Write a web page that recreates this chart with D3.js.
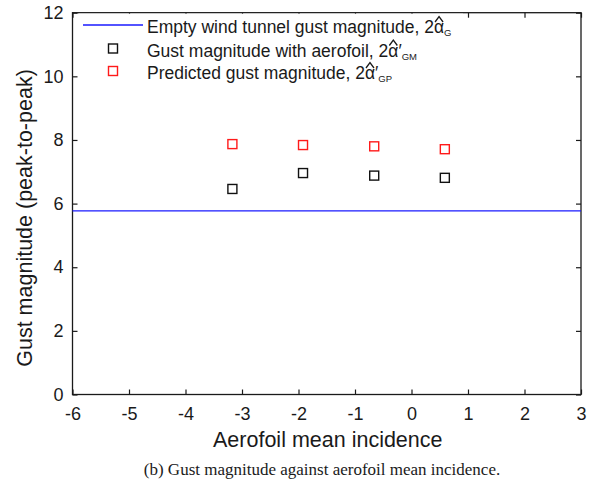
<!DOCTYPE html>
<html>
<head>
<meta charset="utf-8">
<script src="https://cdn.jsdelivr.net/npm/d3@7"></script>
<style>
  html, body { margin: 0; padding: 0; background: #fff; }
  svg { display: block; }
</style>
</head>
<body>
<svg id="chart" width="597" height="485"></svg>
<script>
// Aerofoil mean incidence (deg) for each test case
const incidence = [-3.17, -1.92, -0.66, 0.59];
// Measured gust magnitude with the aerofoil in place
const measured = [6.46, 6.96, 6.88, 6.81];
// Predicted gust magnitude
const predicted = [7.87, 7.84, 7.80, 7.71];
// Empty wind tunnel gust magnitude (constant)
const emptyTunnel = 5.77;

const xTicks = [-6, -5, -4, -3, -2, -1, 0, 1, 2, 3];
const yTicks = [0, 2, 4, 6, 8, 10, 12];

const SANS = "'Liberation Sans', Arial, Helvetica, sans-serif";
const SERIF = "'Liberation Serif', 'Times New Roman', Times, serif";
const ink = "#1a1a1a";

const svg = d3.select("#chart");
const m = { left: 72.5, right: 581, top: 12.7, bottom: 394.5 };

const x = d3.scaleLinear().domain([-6, 3]).range([m.left, m.right]);
const y = d3.scaleLinear().domain([0, 12]).range([m.bottom, m.top]);

const tickLen = 5;
const fmt = d => String(d);

// Frame
svg.append("rect")
  .attr("x", m.left).attr("y", m.top)
  .attr("width", m.right - m.left).attr("height", m.bottom - m.top)
  .attr("fill", "none").attr("stroke", ink).attr("stroke-width", 1.3);

// Axes with inward ticks on all sides
function styleAxis(g) {
  g.select(".domain").remove();
  g.selectAll(".tick line").attr("stroke", ink).attr("stroke-width", 1.2);
  g.selectAll(".tick text")
    .style("font-family", SANS)
    .attr("font-size", 18).attr("fill", ink);
}

svg.append("g").attr("transform", `translate(0,${m.bottom})`)
  .call(d3.axisBottom(x).tickValues(xTicks).tickFormat(fmt)
        .tickSizeInner(-tickLen).tickSizeOuter(0).tickPadding(13))
  .call(styleAxis);

svg.append("g").attr("transform", `translate(0,${m.top})`)
  .call(d3.axisTop(x).tickValues(xTicks).tickFormat("")
        .tickSizeInner(-tickLen).tickSizeOuter(0))
  .call(styleAxis);

svg.append("g").attr("transform", `translate(${m.left},0)`)
  .call(d3.axisLeft(y).tickValues(yTicks).tickFormat(fmt)
        .tickSizeInner(-tickLen).tickSizeOuter(0).tickPadding(9))
  .call(styleAxis);

svg.append("g").attr("transform", `translate(${m.right},0)`)
  .call(d3.axisRight(y).tickValues(yTicks).tickFormat("")
        .tickSizeInner(-tickLen).tickSizeOuter(0))
  .call(styleAxis);

// Empty tunnel reference line
svg.append("line")
  .attr("x1", x(-6)).attr("x2", x(3))
  .attr("y1", y(emptyTunnel)).attr("y2", y(emptyTunnel))
  .attr("stroke", "#1a1aff").attr("stroke-width", 1.4);

// Square markers
const sq = 9;
function squares(values, color) {
  svg.append("g").selectAll("rect")
    .data(values.map((v, i) => [incidence[i], v]))
    .join("rect")
    .attr("x", d => x(d[0]) - sq / 2)
    .attr("y", d => y(d[1]) - sq / 2)
    .attr("width", sq).attr("height", sq)
    .attr("fill", "none").attr("stroke", color).attr("stroke-width", 1.4);
}
squares(measured, "#111");
squares(predicted, "#ff1a1a");

// Legend (white background hiding the top ticks beneath it)
const lg = svg.append("g");
lg.append("rect")
  .attr("x", 79).attr("y", m.top + 1)
  .attr("width", 384).attr("height", 70)
  .attr("fill", "#fff");

const legendRows = [
  { label: "Empty wind tunnel gust magnitude, 2", sub: "G", prime: false, kind: "line", color: "#1a1aff" },
  { label: "Gust magnitude with aerofoil, 2", sub: "GM", prime: true, kind: "square", color: "#111" },
  { label: "Predicted gust magnitude, 2", sub: "GP", prime: true, kind: "square", color: "#ff1a1a" }
];
const rowY = [26.5, 50, 72.5];
const textX = 147;

legendRows.forEach((r, i) => {
  const cy = rowY[i];
  if (r.kind === "line") {
    lg.append("line").attr("x1", 83).attr("x2", 143).attr("y1", cy - 1.5).attr("y2", cy - 1.5)
      .attr("stroke", r.color).attr("stroke-width", 1.4);
  } else {
    lg.append("rect").attr("x", 113 - sq / 2).attr("y", cy - 1.5 - sq / 2)
      .attr("width", sq).attr("height", sq)
      .attr("fill", "none").attr("stroke", r.color).attr("stroke-width", 1.4);
  }
  const t = lg.append("text").attr("x", textX).attr("y", cy + 6.5)
    .style("font-family", SANS).attr("font-size", 17.5).attr("fill", ink);
  t.append("tspan").text(r.label);
  t.append("tspan").text("α");
  if (r.prime) t.append("tspan").text("′");
  t.append("tspan").attr("font-size", 9.5).attr("dy", 3).text(r.sub);
  // hat over alpha
  const ext = t.node().getExtentOfChar(r.label.length);
  const hx = ext.x + ext.width / 2;
  const hy = cy - 4.5;
  lg.append("path")
    .attr("d", `M${hx - 4},${hy} L${hx},${hy - 5.5} L${hx + 4},${hy}`)
    .attr("fill", "none").attr("stroke", ink).attr("stroke-width", 1.3);
});

// Axis titles
svg.append("text")
  .attr("x", (m.left + m.right) / 2 + 1).attr("y", 447)
  .attr("text-anchor", "middle")
  .style("font-family", SANS).attr("font-size", 21.5).attr("fill", ink)
  .text("Aerofoil mean incidence");

svg.append("text")
  .attr("transform", `translate(32,218) rotate(-90)`)
  .attr("text-anchor", "middle")
  .style("font-family", SANS).attr("font-size", 21.5).attr("fill", ink)
  .text("Gust magnitude (peak-to-peak)");

// Caption
svg.append("text")
  .attr("x", 322).attr("y", 475)
  .attr("text-anchor", "middle")
  .style("font-family", SERIF).attr("font-size", 17).attr("fill", ink)
  .text("(b) Gust magnitude against aerofoil mean incidence.");
</script>
</body>
</html>
